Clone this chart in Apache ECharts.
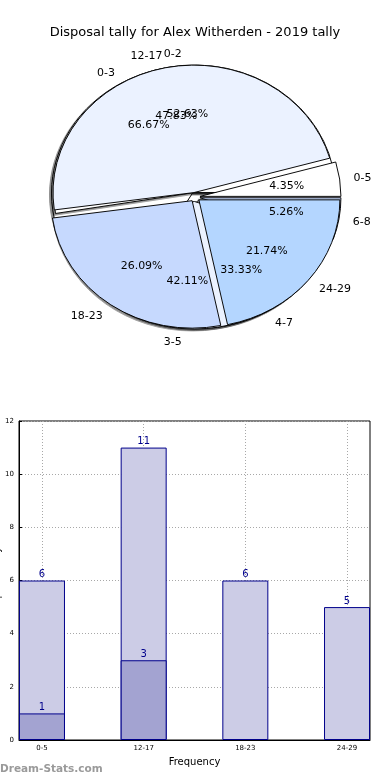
<!DOCTYPE html>
<html><head><meta charset="utf-8">
<script src="https://cdn.jsdelivr.net/npm/echarts@6/dist/echarts.min.js"></script>
<style>
html,body{margin:0;padding:0;background:#fff}
#wrap{position:relative;width:390px;height:780px;overflow:hidden}
#bars{position:absolute;left:0;top:0;width:390px;height:780px}
#pie{position:absolute;left:0;top:0;width:390px;height:400px;transform-origin:195px 197px;transform:scaleY(0.904)}
</style>
</head><body><div id="wrap"><div id="bars"></div><div id="pie"></div></div>
<script>
const titleText = 'Disposal tally for Alex Witherden - 2019 tally';
// Pie A (6-minute buckets)
const pieACats = ['0-5', '12-17', '18-23', '24-29'];
const pieAVals = [1, 11, 6, 5];
// Pie B (3-minute buckets)
const pieBCats = ['0-2', '3-5', '6-8'];
const pieBVals = [10, 8, 1];
// Pie C (4-minute buckets)
const pieCCats = ['0-3', '4-7'];
const pieCVals = [2, 1];
// Bar chart
const barCats = ['0-5', '12-17', '18-23', '24-29'];
const barTotals = [6, 11, 6, 5];
const barSub = [1, 3, 0, 0];
const yTicks = [0, 2, 4, 6, 8, 10, 12];
const xTickPos = [0, 1, 2, 3];

const palette = ['#ffffff', '#ebf2ff', '#c6d9fe', '#b4d6ff'];
const FONT = 'DejaVu Sans';
const CENTER = [195, 197];
const R = 141;
const EXPLODE = 5;

function base(extra) {
  return Object.assign({
    type: 'pie', center: CENTER, startAngle: 0, clockwise: false,
    silent: true, emphasis: {disabled: true}, animation: false,
    selectedMode: 'multiple', selectedOffset: EXPLODE,
    labelLayout: {hideOverlap: false}
  }, extra);
}
function fillSeries(cats, vals, extra) {
  return base(Object.assign({
    radius: R,
    label: {show: false}, labelLine: {show: false},
    itemStyle: {borderColor: '#000', borderWidth: 1},
    data: cats.map((c, i) => ({name: c, value: vals[i], selected: true, itemStyle: {color: palette[i]}}))
  }, extra || {}));
}
function nameSeries(cats, vals) {
  return base({
    radius: R, z: 5, avoidLabelOverlap: false,
    itemStyle: {color: 'rgba(0,0,0,0)', borderWidth: 0},
    label: {show: true, position: 'outside', alignTo: 'none', distanceToLabelLine: 0,
      formatter: '{b}', fontFamily: FONT, fontSize: 11, color: '#000'},
    labelLine: {show: false, length: 14, length2: 0},
    data: cats.map((c, i) => ({name: c, value: vals[i], selected: true}))
  });
}
function pctSeries(cats, vals) {
  const total = vals.reduce((a, b) => a + b, 0);
  return base({
    radius: R * 1.2, z: 5, avoidLabelOverlap: false,
    itemStyle: {color: 'rgba(0,0,0,0)', borderWidth: 0},
    label: {show: true, position: 'inner', fontFamily: FONT, fontSize: 11, color: '#000',
      formatter: p => (p.value / total * 100).toFixed(2) + '%'},
    labelLine: {show: false},
    data: cats.map((c, i) => ({name: c, value: vals[i], selected: true}))
  });
}

const shadow = {itemStyle: {borderColor: '#000', borderWidth: 1, shadowColor: 'rgba(0,0,0,0.45)', shadowOffsetX: -2, shadowOffsetY: 2, shadowBlur: 1}};

const pie = echarts.init(document.getElementById('pie'), null, {renderer: 'svg'});
pie.setOption({
  animation: false,
  series: [
    fillSeries(pieCCats, pieCVals, shadow),
    fillSeries(pieBCats, pieBVals, shadow),
    fillSeries(pieACats, pieAVals),
    nameSeries(pieCCats, pieCVals),
    nameSeries(pieBCats, pieBVals),
    nameSeries(pieACats, pieAVals),
    pctSeries(pieCCats, pieCVals),
    pctSeries(pieBCats, pieBVals),
    pctSeries(pieACats, pieAVals)
  ]
});

const chart = echarts.init(document.getElementById('bars'), null, {renderer: 'canvas'});
chart.setOption({
  animation: false,
  backgroundColor: '#fff',
  title: {text: titleText, left: 'center', top: 21,
    textStyle: {fontFamily: FONT, fontSize: 13, fontWeight: 'normal', color: '#000'}},
  grid: {left: 19, right: 20, top: 421, bottom: 40, show: true, borderColor: '#000', borderWidth: 1,
    containLabel: false, outerBoundsMode: 'none'},
  xAxis: {
    type: 'value', min: -0.226, max: 3.226,
    name: 'Frequency', nameLocation: 'middle', nameGap: 17, nameMoveOverlap: false,
    nameTextStyle: {fontFamily: FONT, fontSize: 10, color: '#000'},
    axisLine: {show: true, onZero: false, lineStyle: {color: '#000'}},
    axisTick: {show: true, inside: true, length: 3, customValues: xTickPos, lineStyle: {color: '#000'}},
    axisLabel: {customValues: xTickPos, formatter: v => barCats[Math.round(v)] || '',
      fontFamily: FONT, fontSize: 7, color: '#000', margin: 5},
    splitLine: {show: true, lineStyle: {color: '#a8a8a8', type: [1, 2], width: 1}}
  },
  yAxis: {
    type: 'value', min: yTicks[0], max: yTicks[yTicks.length - 1], interval: 2,
    name: 'Disposal Tally', nameLocation: 'middle', nameGap: 17, nameRotate: 90, nameMoveOverlap: false,
    nameTextStyle: {fontFamily: FONT, fontSize: 10, color: '#000'},
    axisLine: {show: true, onZero: false, lineStyle: {color: '#000'}},
    axisTick: {show: true, inside: true, length: 3, lineStyle: {color: '#000'}},
    axisLabel: {fontFamily: FONT, fontSize: 7, color: '#000', margin: 5},
    splitLine: {show: true, lineStyle: {color: '#a8a8a8', type: [1, 2], width: 1}}
  },
  graphic: [{type: 'text', left: 0, top: 764, silent: true,
    style: {text: 'Dream-Stats.com', fontFamily: FONT, fontSize: 10.5, fontWeight: 'bold', fill: '#9a9a9a'}}],
  series: [
    {
      type: 'bar', barWidth: 46, barGap: '-100%', silent: true, animation: false,
      itemStyle: {color: '#ccccE6', borderColor: '#00008b', borderWidth: 1},
      label: {show: true, position: 'top', distance: 1, fontFamily: FONT, fontSize: 10, color: '#00008b'},
      data: barCats.map((c, i) => [xTickPos[i], barTotals[i]])
    },
    {
      type: 'bar', barWidth: 46, barGap: '-100%', silent: true, animation: false,
      itemStyle: {color: '#a3a3d1', borderColor: '#00008b', borderWidth: 1},
      label: {show: true, position: 'top', distance: 1, fontFamily: FONT, fontSize: 10, color: '#00008b'},
      data: barCats.map((c, i) => [xTickPos[i], barSub[i]]).filter(d => d[1] > 0)
    }
  ]
});
</script></body></html>
